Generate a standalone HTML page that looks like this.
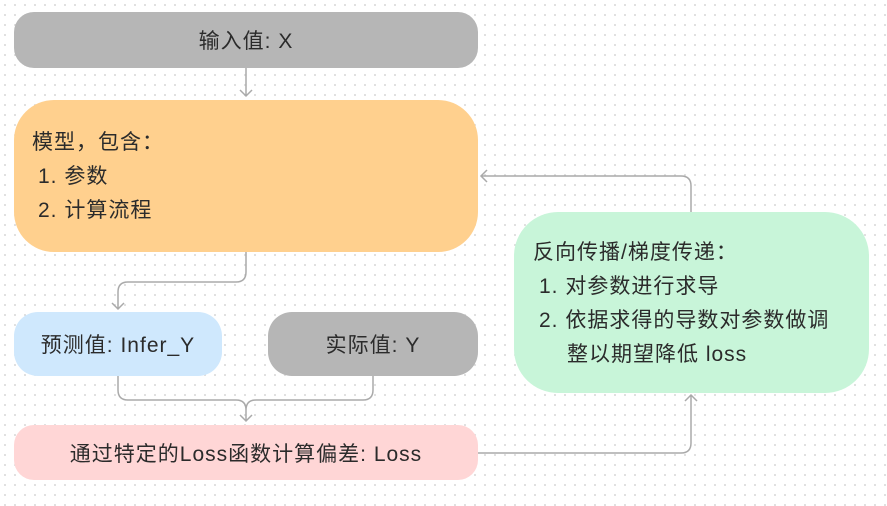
<!DOCTYPE html>
<html><head><meta charset="utf-8"><style>
body{margin:0;width:887px;height:506px;overflow:hidden;background-color:#fff;
background-image:radial-gradient(circle,#d8d8d8 0.8px,transparent 1.1px);background-size:10px 10px;
font-family:"Liberation Sans","Noto Sans CJK SC",sans-serif;color:#2b2b2b;font-size:21px;letter-spacing:1px;position:relative}
.b{position:absolute;box-sizing:border-box;display:flex;align-items:center;justify-content:center}
.t{position:absolute;white-space:nowrap;line-height:34px}
</style></head><body>
<svg width="887" height="506" style="position:absolute;left:0;top:0" fill="none" stroke="#aaa" stroke-width="1.5">
<path d="M246 68V96M240 90l6 6 6-6"/>
<path d="M246 252V272q0 10-10 10H128q-10 0-10 10V309M112 303l6 6 6-6"/>
<path d="M118 376V390q0 10 10 10H236q10 0 10 10V421M373 376V390q0 10-10 10H256q-10 0-10 10M240 415l6 6 6-6"/>
<path d="M478 453H681q10 0 10-10V395M685 401l6-6 6 6"/>
<path d="M691 212V186q0-10-10-10H481M487 170l-6 6 6 6"/>
</svg>
<div class="b" style="left:14px;top:12px;width:464px;height:56px;background:#b6b6b6;border-radius:20px">输入值: X</div>
<div class="b" style="left:14px;top:100px;width:464px;height:152px;background:#ffd08e;border-radius:40px"></div>
<div class="t" style="left:32px;top:126px">模型，包含：</div>
<div class="t" style="left:38px;top:160px">1. 参数</div>
<div class="t" style="left:38px;top:194px">2. 计算流程</div>
<div class="b" style="left:14px;top:312px;width:208px;height:64px;background:#cfe8fd;border-radius:24px">预测值: Infer_Y</div>
<div class="b" style="left:268px;top:312px;width:210px;height:64px;background:#b6b6b6;border-radius:24px">实际值: Y</div>
<div class="b" style="left:14px;top:425px;width:464px;height:55px;background:#ffd6d6;border-radius:20px">通过特定的Loss函数计算偏差: Loss</div>
<div class="b" style="left:514px;top:212px;width:355px;height:181px;background:#c8f5d9;border-radius:44px"></div>
<div class="t" style="left:533px;top:236px">反向传播/梯度传递：</div>
<div class="t" style="left:539px;top:270px">1. 对参数进行求导</div>
<div class="t" style="left:539px;top:304px">2. 依据求得的导数对参数做调</div>
<div class="t" style="left:567px;top:338px">整以期望降低 loss</div>
</body></html>
